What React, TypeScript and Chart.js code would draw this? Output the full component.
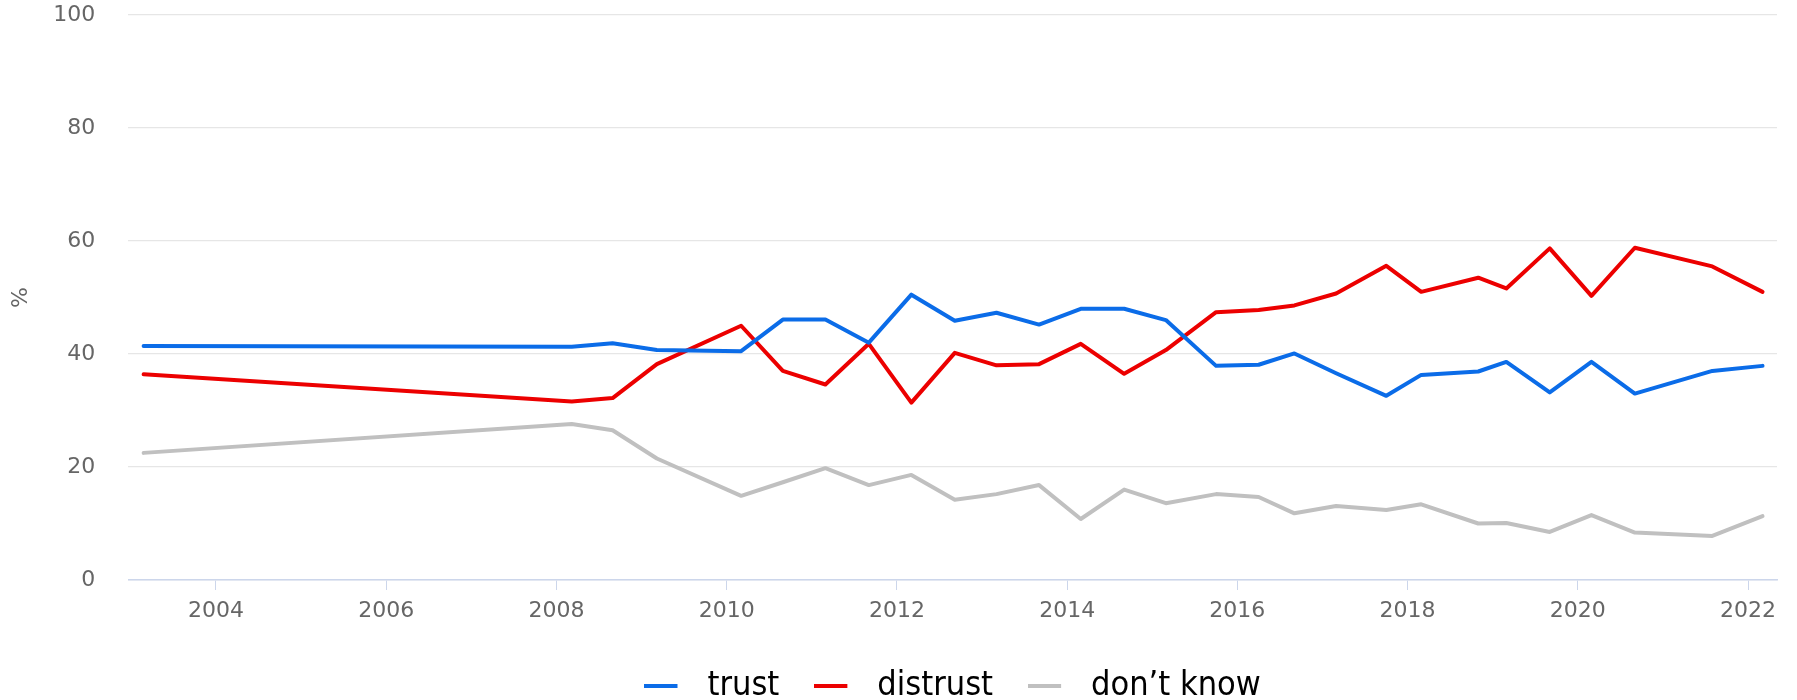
import React, { useEffect, useRef } from "react";
import { Chart, registerables } from "chart.js";

Chart.register(...registerables);

// Survey dates (decimal years)
const surveyDates = [
  2003.15, 2008.18, 2008.66, 2009.18, 2010.17, 2010.66, 2011.16, 2011.67, 2012.17, 2012.68,
  2013.17, 2013.67, 2014.16, 2014.67, 2015.16, 2015.75, 2016.25, 2016.67, 2017.16, 2017.75,
  2018.16, 2018.83, 2019.16, 2019.67, 2020.16, 2020.67, 2021.58, 2022.17,
];

const trust = [
  41.4, 41.3, 41.9, 40.7, 40.5, 46.1, 46.1, 42.0, 50.5, 45.9,
  47.3, 45.2, 48.0, 48.0, 46.0, 37.9, 38.1, 40.1, 36.6, 32.6,
  36.3, 36.9, 38.6, 33.2, 38.6, 33.0, 37.0, 37.9,
];

const distrust = [
  36.4, 31.6, 32.2, 38.2, 45.0, 37.0, 34.6, 41.8, 31.4, 40.2,
  38.0, 38.2, 41.8, 36.5, 40.7, 47.4, 47.8, 48.6, 50.7, 55.6,
  51.0, 53.5, 51.6, 58.7, 50.3, 58.8, 55.5, 51.0,
];

const dontKnow = [
  22.5, 27.6, 26.5, 21.5, 14.9, 17.3, 19.8, 16.8, 18.6, 14.2,
  15.2, 16.8, 10.8, 16.0, 13.6, 15.2, 14.7, 11.8, 13.1, 12.4,
  13.4, 10.0, 10.1, 8.5, 11.5, 8.4, 7.8, 11.3,
];

const seriesLabels = ["trust", "distrust", "don\u2019t know"];
const seriesColors = ["#0b6ce8", "#ec0000", "#c0c0c0"];
const xTickYears = [2004, 2006, 2008, 2010, 2012, 2014, 2016, 2018, 2020, 2022];
const xRange = [2002.97, 2022.34];
const yRange = [0, 100];
const yStep = 20;
const yTitle = "%";

const tickFont = { family: '"DejaVu Sans", Verdana, sans-serif', size: 22 };
const legendFont = {
  family: '"Liberation Sans Narrow", "Arial Narrow", "DejaVu Sans Condensed", sans-serif',
  size: 34,
};

// legend swatch: a short line, followed by extra blank room before the label
const SWATCH_LEN = 33;
const SWATCH_THICK = 4;
const SWATCH_BOX = 46;

function makeSwatch(color: string): HTMLCanvasElement {
  const c = document.createElement("canvas");
  c.width = SWATCH_BOX;
  c.height = SWATCH_THICK;
  const g = c.getContext("2d");
  if (g) {
    g.fillStyle = color;
    g.fillRect(0, 0, SWATCH_LEN, SWATCH_THICK);
  }
  return c;
}

export default function App() {
  const ref = useRef<HTMLCanvasElement>(null);

  useEffect(() => {
    if (!ref.current) return;
    const seriesValues = [trust, distrust, dontKnow];
    const swatches = seriesColors.map(makeSwatch);
    const datasets = seriesValues.map((vals, si) => ({
      label: seriesLabels[si],
      data: vals.map((v, i) => ({ x: surveyDates[i], y: v })),
      borderColor: seriesColors[si],
      backgroundColor: seriesColors[si],
      borderWidth: 4,
      borderJoinStyle: "round" as const,
      borderCapStyle: "round" as const,
      pointRadius: 0,
      pointHoverRadius: 0,
      tension: 0,
    }));

    const chart = new Chart(ref.current, {
      type: "line",
      data: { datasets },
      options: {
        animation: false,
        responsive: true,
        maintainAspectRatio: false,
        layout: { padding: { top: 15, right: 20, bottom: -13, left: 0 } },
        plugins: {
          tooltip: { enabled: false },
          legend: {
            display: true,
            position: "bottom",
            fullSize: false,
            labels: {
              usePointStyle: true,
              pointStyleWidth: SWATCH_BOX,
              boxHeight: SWATCH_THICK,
              padding: 35,
              color: "#000000",
              font: legendFont,
              generateLabels: (c: any) =>
                c.data.datasets.map((d: any, i: number) => ({
                  text: d.label,
                  fillStyle: d.borderColor,
                  strokeStyle: d.borderColor,
                  lineWidth: 0,
                  pointStyle: swatches[i],
                  hidden: false,
                  datasetIndex: i,
                  fontColor: "#000000",
                })),
            },
          },
        },
        scales: {
          x: {
            type: "linear",
            min: xRange[0],
            max: xRange[1],
            bounds: "data",
            afterBuildTicks: (scale: any) => {
              scale.ticks = xTickYears.map((v) => ({ value: v }));
            },
            afterFit: (scale: any) => {
              scale.height = 54;
              scale.paddingLeft = 0;
              scale.paddingRight = 0;
            },
            ticks: {
              color: "#666666",
              font: tickFont,
              padding: 8,
              maxRotation: 0,
              autoSkip: false,
              callback: (v: any) => String(v),
            },
            grid: {
              drawOnChartArea: false,
              drawTicks: true,
              tickLength: 10,
              color: "#ccd6eb",
              lineWidth: 1,
            },
            border: { display: true, color: "#ccd6eb", width: 1.5 },
          },
          y: {
            type: "linear",
            min: yRange[0],
            max: yRange[1],
            afterFit: (scale: any) => {
              scale.width = 128.3;
              scale.paddingTop = 0;
              scale.paddingBottom = 0;
            },
            ticks: {
              stepSize: yStep,
              color: "#666666",
              font: tickFont,
              padding: 33,
            },
            grid: {
              color: "#e6e6e6",
              lineWidth: 1.2,
              drawTicks: false,
            },
            border: { display: false },
            title: {
              display: true,
              text: yTitle,
              color: "#666666",
              font: tickFont,
              padding: { top: 8, bottom: 0 },
            },
          },
        },
      },
    });
    return () => chart.destroy();
  }, []);

  return (
    <div style={{ position: "fixed", top: 0, left: 0, width: 1797, height: 700 }}>
      <canvas ref={ref} />
    </div>
  );
}
